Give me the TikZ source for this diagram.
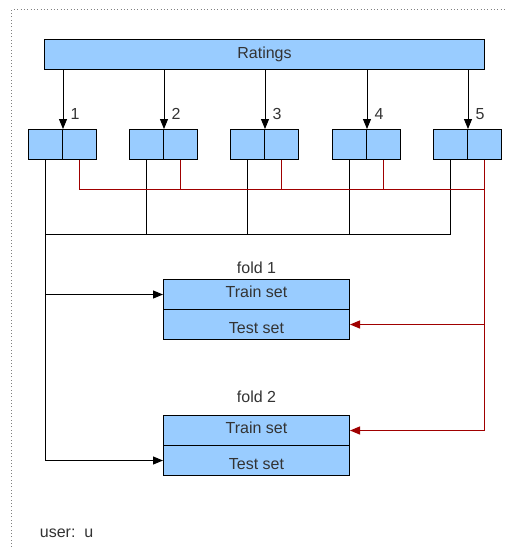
\documentclass[tikz,border=0pt]{standalone}
\usepackage{fontspec}
\setmainfont{Liberation Sans}
\usetikzlibrary{arrows.meta}
\definecolor{boxblue}{HTML}{99CCFF}
\definecolor{foldred}{HTML}{A00000}
\definecolor{txtgray}{HTML}{333333}

\begin{document}
\begin{tikzpicture}[x=0.75pt, y=-0.75pt, line width=0.75pt, >={Triangle[length=7.5pt,width=6pt]},
		font=\fontsize{12}{14}\selectfont, text=txtgray,
		part/.style={draw, fill=boxblue, minimum width=25.5pt, minimum height=22.5pt, inner sep=0pt},
		half/.style={draw, fill=boxblue, minimum width=139.5pt, minimum height=22.5pt, inner sep=0pt},
		trainbox/.style={half, text height=4pt, text depth=0pt},
		testbox/.style={half, text height=14pt, text depth=0pt},
		redline/.style={draw=foldred, line width=0.9pt}]
		\useasboundingbox (0,0) rectangle (507,547);
		\draw[gray, dotted, line width=0.5pt] (11.5,547) -- (11.5,9.5) -- (507,9.5);
		\node[draw, fill=boxblue, minimum width=330pt, minimum height=22.5pt, inner sep=0pt] (ratings) at (264.5,54.5) {Ratings};
		\foreach \i/\xc in {1/62.5, 2/163.5, 3/264.5, 4/366.5, 5/467.5}{
			\node[part] (l\i) at (\xc-17,144.5) {};
			\node[part] (r\i) at (\xc+17,144.5) {};
			\draw[->] (ratings.south -| l\i.east) -- node[pos=0.74, right=2pt]{\i} (l\i.north east);
		}
		\node[trainbox] (f1train) at (256.5,294.5) {Train set};
		\node[testbox] (f1test) at (256.5,324.5) {Test set};
		\node (fold1) at (256.5,268) {fold 1};
		\node[trainbox] (f2train) at (256.5,430.5) {Train set};
		\node[testbox] (f2test) at (256.5,460.5) {Test set};
		\node (fold2) at (256.5,397) {fold 2};
		\node[anchor=west] (user) at (35,533) {user:~~u};
		\coordinate (blackbus) at (0,234.5);
		\coordinate (redbus) at (0,189.5);
		\foreach \i in {2,...,5}
			\draw (l\i.south) -- (l\i.south |- blackbus);
		\draw (l1.south |- blackbus) -- (l5.south |- blackbus);
		\draw[redline] (r1.south) -- (r1.south |- redbus) -- (r5.south |- redbus);
		\foreach \i in {2,...,4}
			\draw[redline] (r\i.south) -- (r\i.south |- redbus);
		\draw[->] (l1.south) -- (l1.south |- f2test.west) -- (f2test.west);
		\draw[->] (l1.south |- f1train.west) -- (f1train.west);
		\draw[redline, ->] (r5.south) -- (r5.south |- f2train.east) -- (f2train.east);
		\draw[redline, ->] (r5.south |- f1test.east) -- (f1test.east);
	\end{tikzpicture}
\end{document}
